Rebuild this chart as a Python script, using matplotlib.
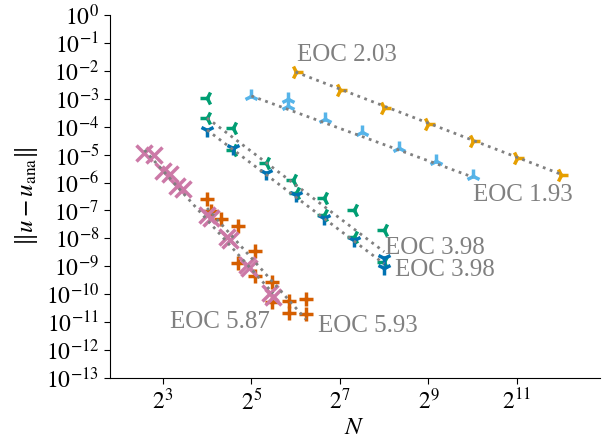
import numpy as np
import matplotlib
matplotlib.use("Agg")
import matplotlib.pyplot as plt
from matplotlib.ticker import NullLocator

plt.rcParams['font.family'] = 'serif'
plt.rcParams['font.serif'] = ['Liberation Serif', 'DejaVu Serif']
plt.rcParams['mathtext.fontset'] = 'stix'

# series: N and error
N_orange = [64, 128, 256, 512, 1024, 2048, 4096]
e_orange = [9.1e-3, 2.06e-3, 4.67e-4, 1.25e-4, 3.07e-5, 7.55e-6, 1.86e-6]

N_sky = [32, 57, 57, 102, 181, 323, 575, 1024]
e_sky = [1.26e-3, 9.8e-4, 5.5e-4, 1.88e-4, 6.5e-5, 1.73e-5, 5.9e-6, 1.71e-6]

N_green = [16, 16, 24, 24, 40, 61, 64, 100, 100, 160, 160, 256, 256]
e_green = [1.06e-3, 2.05e-4, 8.97e-5, 1.46e-5, 5.0e-6, 1.23e-6, 4.2e-7,
           2.79e-7, 6.87e-8, 1.04e-7, 1.12e-8, 2.0e-8, 1.42e-9]

N_blue = [16, 24, 40, 64, 100, 160, 256, 256]
e_blue = [7.6e-5, 1.72e-5, 2.19e-6, 3.57e-7, 5.36e-8, 8.7e-9, 1.98e-9, 8.7e-10]

N_verm = [16, 17, 20, 26, 26, 34, 34, 44, 44, 58, 58, 75, 75]
e_verm = [2.57e-7, 9.55e-8, 4.94e-8, 2.77e-8, 1.31e-9, 3.52e-9, 4.49e-10,
          2.74e-10, 5.26e-11, 5.71e-11, 2.12e-11, 6.73e-11, 1.95e-11]

N_pink = [6, 7, 8, 9, 10, 11, 16, 17, 22, 23, 30, 31, 43, 45]
e_pink = [1.14e-5, 9.7e-6, 2.59e-6, 2.02e-6, 7.5e-7, 5.86e-7, 6.87e-8,
          5.36e-8, 1.12e-8, 8.73e-9, 1.11e-9, 8.7e-10, 1.10e-10, 7.9e-11]

# reference slopes (EOC), start/end N and starting error of each fit line
fit_eoc = [2.03, 1.93, 3.98, 3.98, 5.87, 5.93]
fit_N0 = [64, 32, 16, 16, 6, 16]
fit_N1 = [4096, 1024, 256, 256, 45, 75]
fit_e0 = [9.1e-3, 1.26e-3, 2.05e-4, 7.6e-5, 1.46e-5, 1.22e-7]

# label positions (N, err)
lab_text = ['EOC 2.03', 'EOC 1.93', 'EOC 3.98', 'EOC 3.98', 'EOC 5.87', 'EOC 5.93']
lab_N = [2**6.03, 2**10.0, 2**8.02, 2**8.24, 2**3.16, 2**6.5]
lab_e = [10**-1.43, 10**-6.45, 10**-8.35, 10**-9.13, 10**-11.0, 10**-11.14]

fig = plt.figure(figsize=(6.02, 4.45), dpi=100)
ax = fig.add_axes([0.182, 0.1506, 0.8147, 0.8157])

for eoc, n0, n1, e0 in zip(fit_eoc, fit_N0, fit_N1, fit_e0):
    nn = np.array([n0, n1], dtype=float)
    ax.plot(nn, e0 * (nn / n0) ** (-eoc), ':', color='gray', lw=2, zorder=3)

mk = dict(ls='none', mew=2.5, zorder=2)
ax.plot(N_orange, e_orange, '4', color='#E69F00', ms=10, **mk)
ax.plot(N_sky, e_sky, '2', color='#56B4E9', ms=10, **mk)
ax.plot(N_green, e_green, '3', color='#009E73', ms=10, **mk)
ax.plot(N_blue, e_blue, '1', color='#0072B2', ms=10, **mk)
ax.plot(N_verm, e_verm, '+', color='#D55E00', ms=10, **mk)
ax.plot(N_pink, e_pink, 'x', color='#CC79A7', ms=11, **mk)

for t, xn, ye in zip(lab_text, lab_N, lab_e):
    ax.text(xn, ye, t, color='gray', fontsize=18, ha='left', va='center')

ax.set_xscale('log', base=2)
ax.set_yscale('log')
ax.set_xlim(2**1.797, 2**12.876)
ax.set_ylim(1e-13, 1e0)

xt = [3, 5, 7, 9, 11]
ax.set_xticks([2.0**k for k in xt])
ax.set_xticklabels([r'$2^{%d}$' % k for k in xt])
yt = list(range(0, -14, -1))
ax.set_yticks([10.0**k for k in yt])
ax.set_yticklabels([r'$10^{%d}$' % k for k in yt])
ax.xaxis.set_minor_locator(NullLocator())
ax.yaxis.set_minor_locator(NullLocator())
ax.tick_params(labelsize=17, length=4, width=0.8)

ax.spines['top'].set_visible(False)
ax.spines['right'].set_visible(False)

ax.set_xlabel(r'$N$', fontsize=18, labelpad=2)
ax.set_ylabel(r'$\|u - u_{\mathrm{ana}}\|$', fontsize=18, labelpad=4)

fig.savefig('out.png', dpi=100)
